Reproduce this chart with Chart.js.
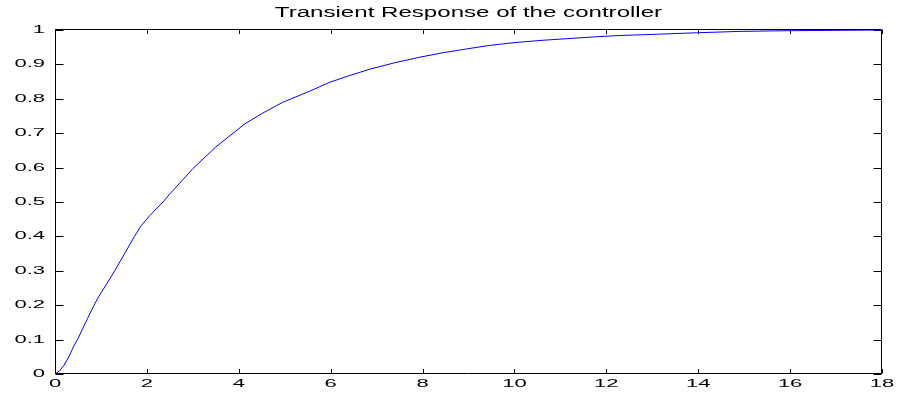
<!DOCTYPE html>
<html>
<head>
<meta charset="utf-8">
<script src="https://cdn.jsdelivr.net/npm/chart.js@4/dist/chart.umd.min.js"></script>
<style>
  html, body { margin: 0; padding: 0; background: #ffffff; }
  canvas { display: block; }
</style>
</head>
<body>
<canvas id="c" width="899" height="398"></canvas>
<script>
// ---- data ----
const chartTitle = 'Transient Response of the controller';
const timeValues = [0, 0.1, 0.2, 0.3, 0.42, 0.5, 0.71, 0.85, 0.93, 1.3, 1.73, 1.88, 2.06, 2.35, 2.49, 2.77, 3.0, 3.5, 4.13, 4.5, 4.82, 4.96, 5.54, 5.98, 6.42, 6.85, 7.4, 7.94, 8.45, 8.96, 9.45, 9.97, 10.6, 11.28, 11.86, 12.3, 13.17, 13.97, 14.91, 15.93, 17.0, 18.0];
const responseValues = [0, 0.009, 0.026, 0.05, 0.084, 0.103, 0.162, 0.2, 0.22, 0.3, 0.4, 0.432, 0.46, 0.5, 0.522, 0.563, 0.597, 0.66, 0.727, 0.757, 0.78, 0.79, 0.822, 0.848, 0.868, 0.886, 0.905, 0.921, 0.934, 0.945, 0.955, 0.963, 0.97, 0.976, 0.981, 0.984, 0.988, 0.992, 0.996, 0.998, 0.999, 1.0];
const xTickLabels = ['0', '2', '4', '6', '8', '10', '12', '14', '16', '18'];
const yTickLabels = ['0', '0.1', '0.2', '0.3', '0.4', '0.5', '0.6', '0.7', '0.8', '0.9', '1'];

const points = timeValues.map((t, i) => ({ x: t, y: responseValues[i] }));

// ---- stretch text horizontally like the reference (wide rendering) ----
const canvas = document.getElementById('c');
const ctx = canvas.getContext('2d');
const origFillText = ctx.fillText.bind(ctx);
ctx.fillText = function (text, x, y) {
  let sx = 1;
  const f = ctx.font || '';
  if (f.indexOf('14px') !== -1) sx = 1.72;
  else if (f.indexOf('11px') !== -1) sx = 2.0;
  if (sx === 1) return origFillText(text, x, y);
  ctx.save();
  ctx.translate(x, y);
  ctx.scale(sx, 1);
  origFillText(text, 0, 0);
  ctx.restore();
};

// ---- box + inward tick marks on all four sides ----
const boxTicks = {
  id: 'boxTicks',
  beforeDatasetsDraw(chart) {
    const a = chart.chartArea;
    const c = chart.ctx;
    const xs = chart.scales.x, ys = chart.scales.y;
    c.save();
    c.strokeStyle = '#000000';
    c.lineWidth = 1;
    const L = Math.round(a.left) + 0.5, R = Math.round(a.right) - 0.5;
    const T = Math.round(a.top) - 0.5, B = Math.round(a.bottom) - 0.5;
    c.beginPath();
    c.rect(L, T, R - L, B - T);
    xs.ticks.forEach(tk => {
      const px = Math.round(xs.getPixelForValue(tk.value)) + 0.5;
      c.moveTo(px, B); c.lineTo(px, B - 4.5);
      c.moveTo(px, T); c.lineTo(px, T + 4.5);
    });
    ys.ticks.forEach(tk => {
      const py = Math.round(ys.getPixelForValue(tk.value)) + 0.5;
      c.moveTo(L, py); c.lineTo(L + 8, py);
      c.moveTo(R, py); c.lineTo(R - 8, py);
    });
    c.stroke();
    c.restore();
  }
};

new Chart(ctx, {
  type: 'line',
  data: {
    datasets: [{
      data: points,
      borderColor: '#0000ff',
      borderWidth: 1,
      pointRadius: 0,
      tension: 0,
      fill: false
    }]
  },
  options: {
    responsive: false,
    animation: false,
    devicePixelRatio: 1,
    layout: { padding: { left: 0, right: 17, top: 0, bottom: 0 } },
    plugins: {
      legend: { display: false },
      tooltip: { enabled: false },
      title: {
        display: true,
        text: chartTitle,
        fullSize: false,
        color: '#000000',
        font: { family: "'Liberation Sans', Arial, sans-serif", size: 14, weight: 'normal', lineHeight: 1.2 },
        padding: { top: 5, bottom: 8.2 }
      }
    },
    scales: {
      x: {
        type: 'linear',
        min: 0,
        max: 18,
        grid: { display: false, drawTicks: false },
        border: { display: false },
        ticks: {
          stepSize: 2,
          autoSkip: false,
          maxRotation: 0,
          padding: 3,
          color: '#000000',
          font: { family: "'Liberation Sans', Arial, sans-serif", size: 11 },
          callback: (v, i) => xTickLabels[i]
        },
        afterFit: (s) => { s.height = 24; }
      },
      y: {
        type: 'linear',
        min: 0,
        max: 1,
        grid: { display: false, drawTicks: false },
        border: { display: false },
        ticks: {
          stepSize: 0.1,
          autoSkip: false,
          padding: 10,
          color: '#000000',
          font: { family: "'Liberation Sans', Arial, sans-serif", size: 11 },
          callback: (v, i) => yTickLabels[i]
        },
        afterFit: (s) => { s.width = 55; }
      }
    }
  },
  plugins: [boxTicks]
});
</script>
</body>
</html>
